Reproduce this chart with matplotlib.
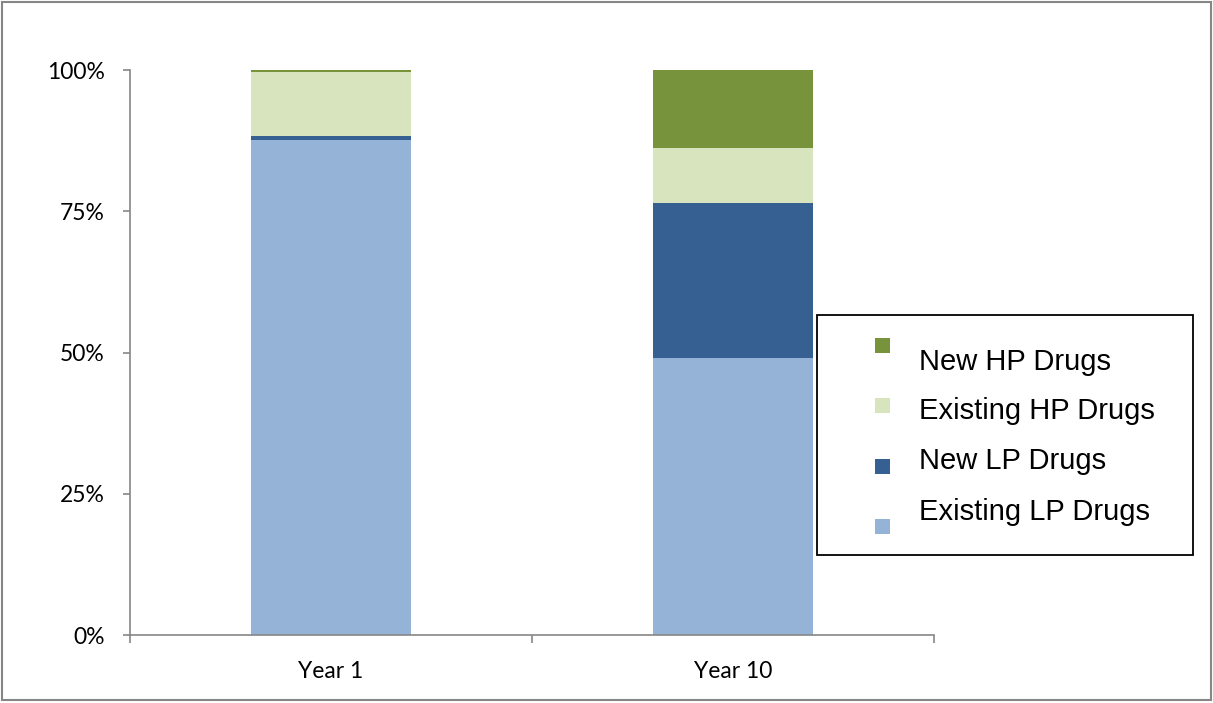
import matplotlib
matplotlib.use("Agg")
import matplotlib.pyplot as plt
from matplotlib.patches import Rectangle

# Share of drug spending by category
years = ["Year 1", "Year 10"]
series_names = ["Existing LP Drugs", "New LP Drugs", "Existing HP Drugs", "New HP Drugs"]
existing_lp = [0.876, 0.490]
new_lp = [0.008, 0.275]
existing_hp = [0.1125, 0.097]
new_hp = [0.0035, 0.138]
ytick_values = [0, 0.25, 0.5, 0.75, 1.0]
ytick_labels = ["0%", "25%", "50%", "75%", "100%"]

colors = {
    "Existing LP Drugs": "#95B3D7",
    "New LP Drugs": "#376092",
    "Existing HP Drugs": "#D7E4BD",
    "New HP Drugs": "#77933C",
}

W, H = 1213, 703
fig = plt.figure(figsize=(W / 100, H / 100), dpi=100)
ax = fig.add_axes([130 / W, (H - 635) / H, (934 - 130) / W, (635 - 70) / H])

axis_grey = "#868686"
tick_font = "Lato"
tick_size = 16.5

x = list(range(len(years)))
bottom = [0.0] * len(years)
for name, vals in zip(series_names, [existing_lp, new_lp, existing_hp, new_hp]):
    ax.bar(x, vals, width=0.4, bottom=bottom, color=colors[name], linewidth=0, zorder=2)
    bottom = [b + v for b, v in zip(bottom, vals)]

ax.set_xlim(-0.5, len(years) - 0.5)
ax.set_ylim(0, 1)

for s in ["top", "right"]:
    ax.spines[s].set_visible(False)
for s in ["left", "bottom"]:
    ax.spines[s].set_color(axis_grey)
    ax.spines[s].set_linewidth(1.2)

ax.set_yticks(ytick_values)
ax.set_yticklabels(ytick_labels, fontsize=tick_size, family=tick_font)
ax.tick_params(axis="y", length=5, width=1.2, color=axis_grey, pad=13)

# Category boundaries carry the x ticks, labels sit under the bar centres
ax.set_xticks([i - 0.5 for i in range(len(years) + 1)])
ax.set_xticklabels([])
ax.tick_params(axis="x", length=6, width=1.2, color=axis_grey)
for i, label in enumerate(years):
    ax.annotate(label, xy=(i, 0), xycoords=("data", "axes fraction"),
                xytext=(0, -26), textcoords="offset points",
                ha="center", va="center", fontsize=tick_size, family=tick_font)

# Legend box drawn in figure pixels
def fx(px):
    return px / W

def fy(py):
    return (H - py) / H

fig.patches.append(Rectangle((fx(817), fy(555)), fx(1193) - fx(817), fy(315) - fy(555),
                             transform=fig.transFigure, facecolor="white",
                             edgecolor="black", linewidth=1.3, zorder=5))
legend_rows = [
    ("New HP Drugs", 345, 362),
    ("Existing HP Drugs", 405, 411),
    ("New LP Drugs", 466, 461),
    ("Existing LP Drugs", 526, 512),
]
for name, sq_y, txt_y in legend_rows:
    fig.patches.append(Rectangle((fx(875), fy(sq_y + 7.5)), fx(890) - fx(875), fy(sq_y - 7.5) - fy(sq_y + 7.5),
                                 transform=fig.transFigure, facecolor=colors[name],
                                 edgecolor="none", zorder=6))
    fig.text(fx(919), fy(txt_y), name, fontsize=21, family="Liberation Sans",
             ha="left", va="center", zorder=7)

# Outer frame around the whole chart
fig.patches.append(Rectangle((fx(2), fy(700)), fx(1211) - fx(2), fy(2) - fy(700),
                             transform=fig.transFigure, facecolor="none",
                             edgecolor=axis_grey, linewidth=1.5, zorder=1))

fig.savefig("out.png", dpi=100)
